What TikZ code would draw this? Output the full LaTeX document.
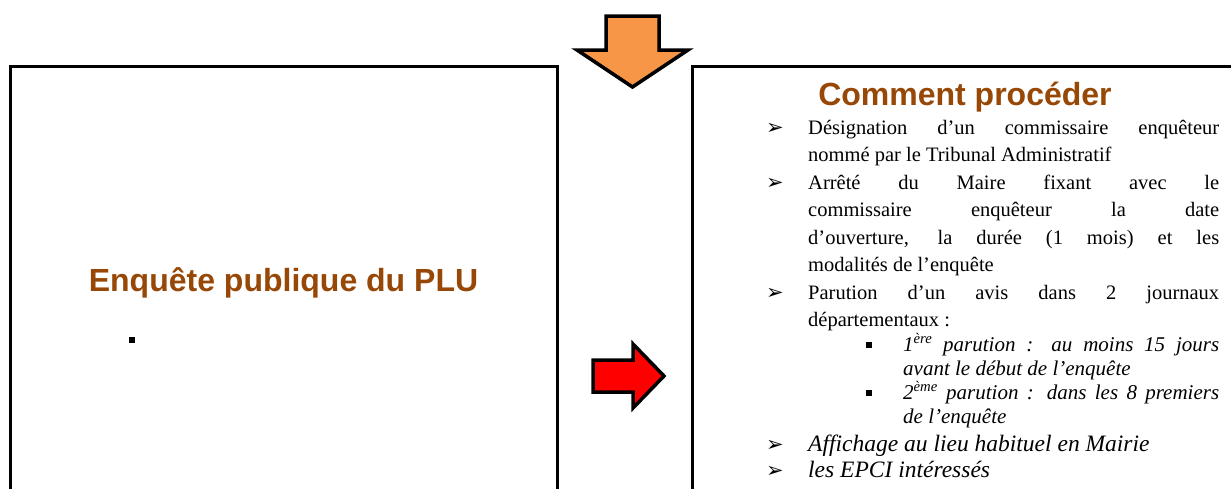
\documentclass[tikz,border=0pt]{standalone}
\usepackage{fontspec}
\setmainfont{Liberation Serif}
\newfontfamily\arialf{Liberation Sans}
\newfontfamily\dejavuf{DejaVu Sans}
\definecolor{titlebrown}{HTML}{974806}
\definecolor{arroworange}{HTML}{F79646}
\newcommand\jl[2]{\makebox[#1][s]{#2}}
\begin{document}
\begin{tikzpicture}[x=1pt,y=-1pt,
  frame/.style={draw=black, line width=3pt},
  body/.style={font=\fontsize{20.5}{25}\selectfont, inner sep=0pt, anchor=base west},
  ibody/.style={body, font=\fontsize{21}{25}\selectfont\itshape},
  lbody/.style={body, font=\fontsize{23.5}{27}\selectfont\itshape},
  bul/.style={font=\dejavuf\fontsize{21}{21}\selectfont, inner sep=0pt, anchor=base west},
  sq/.style={fill=black, inner sep=0pt, minimum size=6pt},
  title/.style={font=\arialf\bfseries\fontsize{32}{36}\selectfont, text=titlebrown, inner sep=0pt, anchor=base},
  bigarrow/.style={draw=black, line width=3.5pt, line join=miter}]
\clip (0,0) rectangle (1231,488);
\fill[white] (0,0) rectangle (1231,488);
% boxes
\draw[frame] (10,66) rectangle (557,500);
\draw[frame] (692,66) rectangle (1245,500);
% arrows
\filldraw[bigarrow, fill=arroworange] (606,16) -- (659,16) -- (659,50) -- (688,50) -- (632.5,87) -- (577,50) -- (606,50) -- cycle;
\filldraw[bigarrow, fill=red] (593,360) -- (633,360) -- (633,344) -- (664,376) -- (633,408) -- (633,392) -- (593,392) -- cycle;
% left box
\node[title] (lt) at (283.5,291) {Enquête publique du PLU};
\node[sq] (lsq) at (132,340) {};
% right box
\node[title] (rt) at (965,105) {Comment procéder};
\node[bul] (b1) at (766,134) {➢};
\node[body] (l1) at (808,134) {\jl{411pt}{Désignation d’un commissaire enquêteur}};
\node[body] (l2) at (808,161.5) {nommé par le Tribunal Administratif};
\node[bul] (b2) at (766,189) {➢};
\node[body] (l3) at (808,189) {\jl{411pt}{Arrêté du Maire fixant avec le}};
\node[body] (l4) at (808,216.5) {\jl{411pt}{commissaire enquêteur la date}};
\node[body] (l5) at (808,244) {\jl{411pt}{d’ouverture, la durée (1 mois) et les}};
\node[body] (l6) at (808,271.5) {modalités de l’enquête};
\node[bul] (b3) at (766,299) {➢};
\node[body] (l7) at (808,299) {\jl{411pt}{Parution d’un avis dans 2 journaux}};
\node[body] (l8) at (808,326.5) {départementaux :};
\node[sq] (s1) at (869,345) {};
\node[ibody] (l9) at (903,351) {\jl{316pt}{1\textsuperscript{ère} parution : au moins 15 jours}};
\node[ibody] (l10) at (903,375) {avant le début de l’enquête};
\node[sq] (s2) at (869,393) {};
\node[ibody] (l11) at (903,399) {\jl{316pt}{2\textsuperscript{ème} parution : dans les 8 premiers}};
\node[ibody] (l12) at (903,423) {de l’enquête};
\node[bul] (b4) at (766,451) {➢};
\node[lbody] (l13) at (808,451) {Affichage au lieu habituel en Mairie};
\node[bul] (b5) at (766,477) {➢};
\node[lbody] (l14) at (808,477) {les EPCI intéressés};
\end{tikzpicture}
\end{document}
